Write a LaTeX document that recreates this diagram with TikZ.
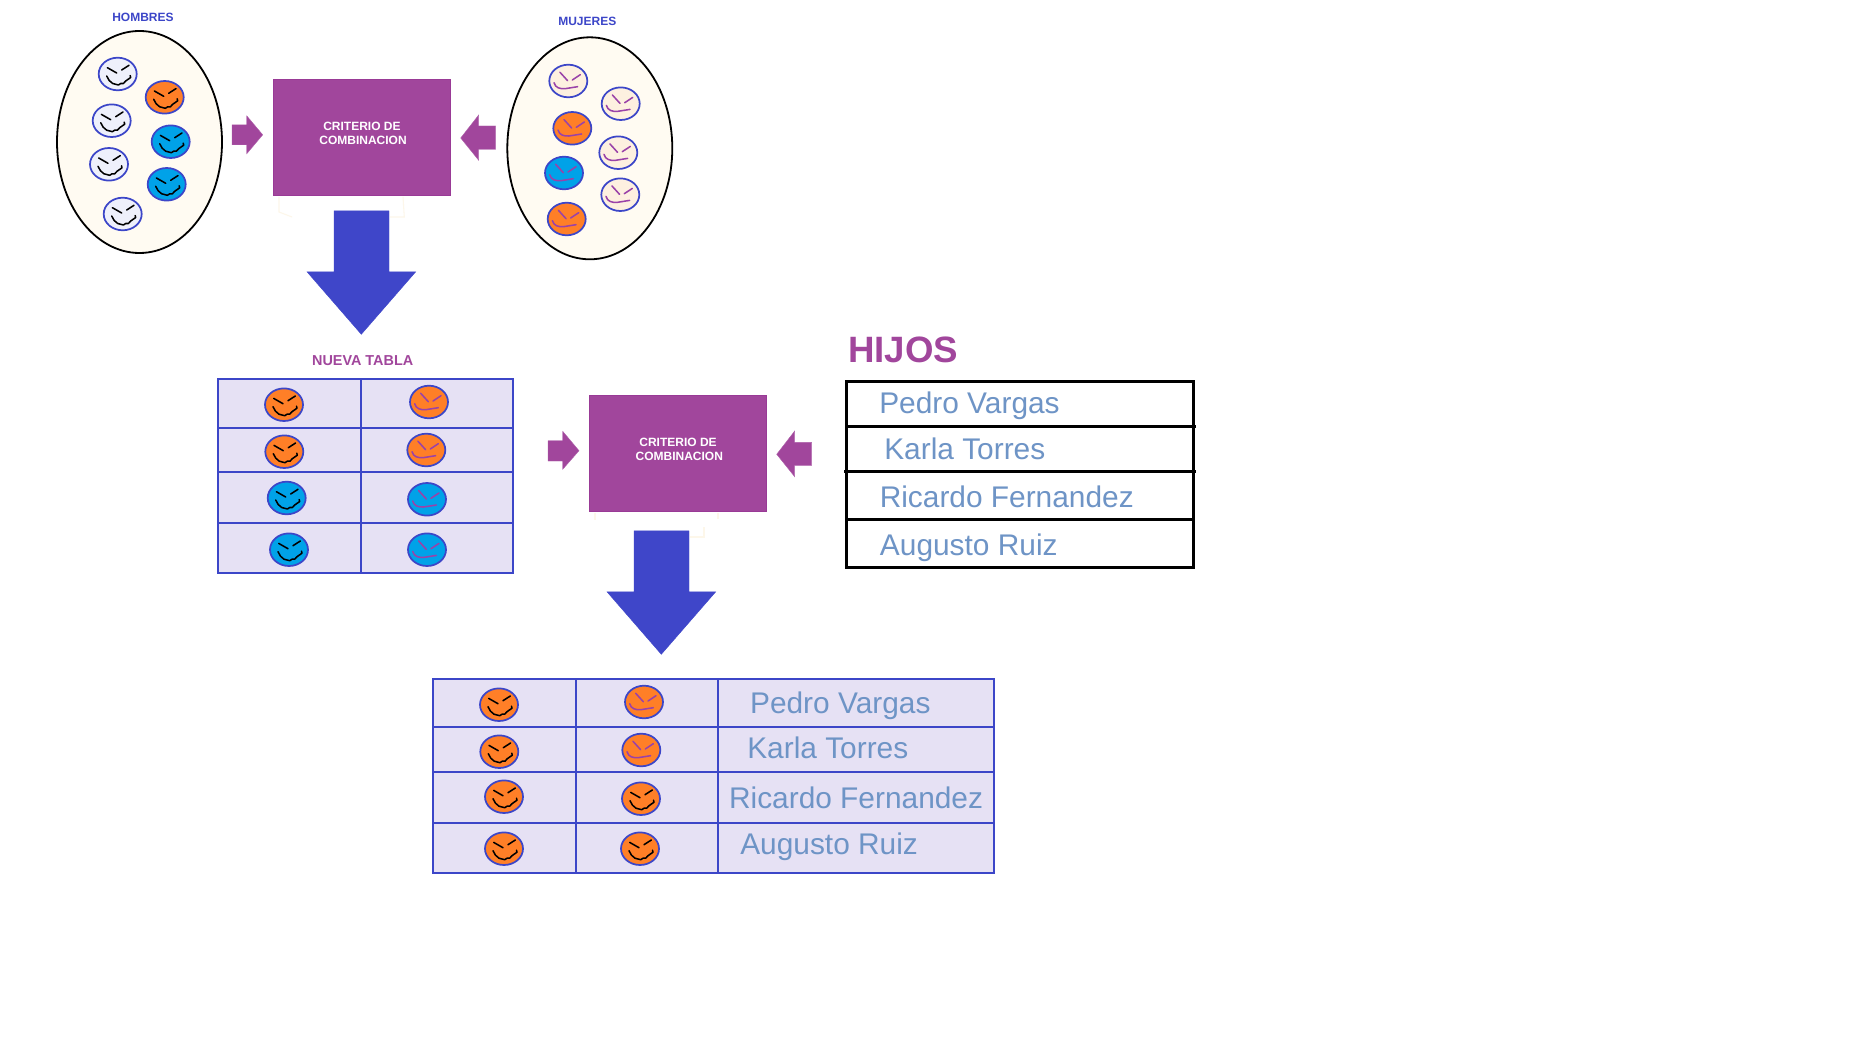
\documentclass[tikz,border=0pt]{standalone}
\usepackage{fontspec}
\setmainfont{Liberation Sans}
\usetikzlibrary{shapes.geometric}
\definecolor{bluel}{HTML}{3C46C8}
\definecolor{bluea}{HTML}{3F46C9}
\definecolor{purp}{HTML}{A1469C}
\definecolor{purpd}{HTML}{993A96}
\definecolor{cream}{HTML}{FFFBF2}
\definecolor{faint}{HTML}{FDF7EA}
\definecolor{cell}{HTML}{E6E1F4}
\definecolor{names}{HTML}{6E94C6}
\definecolor{oran}{HTML}{FF7F27}
\definecolor{cyanf}{HTML}{00A2E8}
\definecolor{whitef}{HTML}{EEF0FB}
\definecolor{peach}{HTML}{FDF0E0}
\definecolor{mouth}{HTML}{9A42A8}
\tikzset{
  oval/.style={draw=black,fill=cream,line width=1.35pt},
  faceoval/.style={draw=bluel,line width=1.3pt},
  manline/.style={draw=black,line width=1.15pt,line join=round,line cap=round},
  womanline/.style={draw=mouth,line width=1.15pt,line join=round,line cap=round},
  critbox/.style={fill=purp,draw=purpd,line width=.4pt},
  purparrow/.style={fill=purp,draw=purp!85,line width=.3pt},
  bluearrow/.style={fill=bluea,draw=bluea,line width=.3pt},
  celltable/.style={draw=bluel,fill=cell,line width=1.4pt},
  cellline/.style={draw=bluel,line width=1.4pt},
  hijotable/.style={draw=black,line width=1.95pt},
  faintline/.style={draw=faint,line width=.8pt},
  smalltext/.style={font=\fontsize{9pt}{11pt}\selectfont\bfseries,inner sep=0pt},
  critlabel/.style={smalltext,text=white},
  setlabel/.style={smalltext,text=bluel},
  namelabel/.style={anchor=base west,inner sep=0pt,text=names,font=\fontsize{22.4pt}{26pt}\selectfont},
}
\newcommand{\manface}[3]{%
  \begin{scope}[shift={(#1,#2)}]
    \path[faceoval,fill=#3] (0,0) ellipse (19 and 16.3);
    \path[manline] (-10.3,-6.3) -- (-1,-1);
    \path[manline] (4,-4) -- (11.3,-8.7);
    \path[manline] (-11,2) -- (-8.5,6.5) -- (-5,9.5) -- (0.7,11) -- (3,9.5) -- (5.7,9.5) -- (8,7) -- (13,3.5) -- (12.5,1.5);
  \end{scope}}
\newcommand{\womanface}[3]{%
  \begin{scope}[shift={(#1,#2)}]
    \path[faceoval,fill=#3] (0,0) ellipse (19 and 16.3);
    \path[womanline] (-8.3,-8.7) -- (-0.7,-0.3);
    \path[womanline] (4,-1) -- (12,-6.3);
    \path[womanline] (-14.3,1.7) .. controls (-13,7) and (-8,8) .. (-3.3,7.7) -- (9.3,5.7);
  \end{scope}}
\begin{document}
\begin{tikzpicture}[x=0.75pt,y=-0.75pt]
\useasboundingbox (0,0) rectangle (1858,1048);
\fill[white] (0,0) rectangle (1858,1048);

% --- faint traces below the purple boxes
\path[faintline] (279,197) -- (279,212) -- (292,217);
\path[faintline] (403,197) -- (404.3,217) -- (390,217);
\path[faintline] (595,513) -- (595,520);
\path[faintline] (718,513) -- (718,519);
\path[faintline] (704,527) -- (704,537) -- (690,537);

% --- HOMBRES
\node[setlabel] (hombres) at (143,17.3) {HOMBRES};
\path[oval] (139.5,142) ellipse (82.5 and 111);
\manface{117.7}{74}{whitef}
\manface{164.7}{97.3}{oran}
\manface{111.7}{120.7}{whitef}
\manface{170.7}{141.7}{cyanf}
\manface{109}{164.3}{whitef}
\manface{166.7}{184.3}{cyanf}
\manface{122.7}{214}{whitef}

% --- MUJERES
\node[setlabel] (mujeres) at (587.3,21.3) {MUJERES};
\path[oval] (589.8,148.3) ellipse (82.5 and 111);
\womanface{568.3}{81}{peach}
\womanface{620.7}{103.7}{peach}
\womanface{572.3}{128.3}{oran}
\womanface{618.3}{152.7}{peach}
\womanface{564}{173}{cyanf}
\womanface{620.3}{194.7}{peach}
\womanface{566.7}{219}{oran}

% --- first criterion
\path[critbox] (273.3,79.6) rectangle (450.7,195.7);
\node[critlabel] (crit1a) at (362,126.3) {CRITERIO DE};
\node[critlabel] (crit1b) at (363,140.3) {COMBINACION};
\path[purparrow] (232,124.8) -- (246.7,124.8) -- (246.7,115.8) -- (262.7,134.8) -- (246.7,153.8) -- (246.7,144.8) -- (232,144.8) -- cycle;
\path[purparrow] (495.7,126) -- (478.7,126) -- (478.7,115) -- (460.7,138) -- (478.7,160.3) -- (478.7,149.3) -- (495.7,149.3) -- cycle;
\path[bluearrow] (334,210.8) -- (389,210.8) -- (389,271.8) -- (415.7,271.8) -- (361.3,334.3) -- (307,271.8) -- (334,271.8) -- cycle;

% --- NUEVA TABLA
\node[smalltext,text=purp,font=\fontsize{10.8pt}{13pt}\selectfont\bfseries] (nueva) at (362.7,361) {NUEVA TABLA};
\path[celltable] (217.7,379.3) rectangle (513,573);
\path[cellline] (360.6,379.3) -- (360.6,573);
\path[cellline] (217.7,427.7) -- (513,427.7);
\path[cellline] (217.7,472) -- (513,472);
\path[cellline] (217.7,523) -- (513,523);
\manface{284}{404.7}{oran}
\womanface{429}{402}{oran}
\manface{284.3}{451.7}{oran}
\womanface{426.3}{450}{oran}
\manface{286.7}{498}{cyanf}
\womanface{427}{499.3}{cyanf}
\manface{289}{549.7}{cyanf}
\womanface{427}{549.7}{cyanf}

% --- second criterion
\path[critbox] (589.3,395.6) rectangle (766.3,511.7);
\node[critlabel] (crit2a) at (678,442.3) {CRITERIO DE};
\node[critlabel] (crit2b) at (679.3,456.6) {COMBINACION};
\path[purparrow] (548,440.7) -- (562.7,440.7) -- (562.7,431.3) -- (579,450.7) -- (562.7,469.3) -- (562.7,461) -- (548,461) -- cycle;
\path[purparrow] (811.7,442.3) -- (794.7,442.3) -- (794.7,431) -- (776.7,454.3) -- (794.7,476.7) -- (794.7,465.3) -- (811.7,465.3) -- cycle;
\path[bluearrow] (634,530.8) -- (689,530.8) -- (689,591.8) -- (715.7,591.8) -- (661.3,654.3) -- (607,591.8) -- (634,591.8) -- cycle;

% --- HIJOS
\node[anchor=base west,inner sep=0pt,text=purp,font=\fontsize{27.5pt}{32pt}\selectfont\bfseries] (hijos) at (848,362.3) {HIJOS};
\path[hijotable] (846.3,381.7) rectangle (1193.3,567.3);
\path[hijotable] (846.3,426.3) -- (1195.7,426.3);
\path[hijotable] (844,471.7) -- (1196,471.7);
\path[hijotable] (846.3,519.3) -- (1193.3,519.3);
\node[namelabel] (h1) at (879,413.2) {Pedro Vargas};
\node[namelabel] (h2) at (884,459.8) {Karla Torres};
\node[namelabel] (h3) at (879.5,507.2) {Ricardo Fernandez};
\node[namelabel] (h4) at (879.7,555.8) {Augusto Ruiz};

% --- result table
\path[celltable] (432.7,679) rectangle (994,872.7);
\path[cellline] (575.6,679) -- (575.6,872.7);
\path[cellline] (717.6,679) -- (717.6,872.7);
\path[cellline] (432.7,727.3) -- (994,727.3);
\path[cellline] (432.7,771.7) -- (994,771.7);
\path[cellline] (432.7,823.3) -- (994,823.3);
\manface{499}{704.7}{oran}
\womanface{644}{702}{oran}
\manface{499.3}{751.7}{oran}
\womanface{641.3}{750}{oran}
\manface{504}{796.7}{oran}
\manface{641}{798.7}{oran}
\manface{504}{848.7}{oran}
\manface{640}{848.7}{oran}
\node[namelabel] (r1) at (749.8,713) {Pedro Vargas};
\node[namelabel] (r2) at (747,758.8) {Karla Torres};
\node[namelabel] (r3) at (728.8,808.8) {Ricardo Fernandez};
\node[namelabel] (r4) at (740,854.8) {Augusto Ruiz};
\end{tikzpicture}
\end{document}
